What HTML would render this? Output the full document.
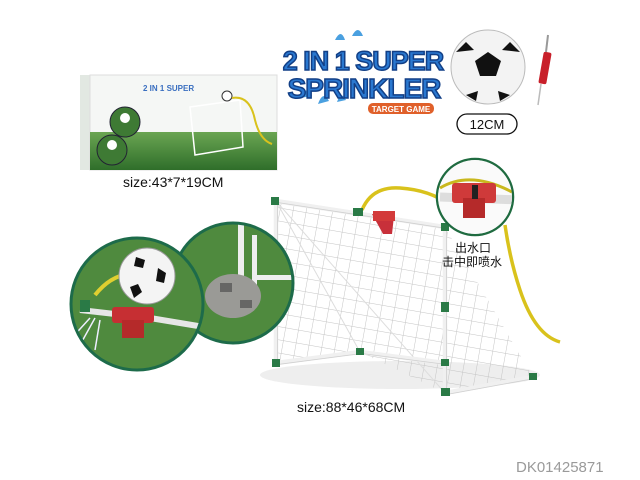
<!DOCTYPE html>
<html><head><meta charset="utf-8"><style>
body{margin:0;width:640px;height:480px;background:#fff;overflow:hidden;font-family:"Liberation Sans","Noto Sans CJK SC",sans-serif}
svg{position:absolute;left:0;top:0}
</style></head><body>
<svg width="640" height="480" viewBox="0 0 640 480">
<defs>
<linearGradient id="g" x1="0" y1="0" x2="0" y2="1"><stop offset="0" stop-color="#6aa552"/><stop offset="1" stop-color="#2f6e2a"/></linearGradient>
<pattern id="net" width="13" height="13" patternUnits="userSpaceOnUse" patternTransform="rotate(10)"><path d="M0 0H13M0 0V13" stroke="#c4c4c4" stroke-width="1" fill="none"/></pattern>
<clipPath id="c1"><circle cx="137" cy="304" r="66"/></clipPath>
<clipPath id="c2"><circle cx="233" cy="283" r="60"/></clipPath>
<clipPath id="c3"><circle cx="475" cy="197" r="37"/></clipPath>
</defs>
<!-- box -->
<rect x="80" y="75" width="10" height="95" fill="#e2e8e2"/>
<rect x="90" y="75" width="187" height="95" fill="#f5f7f5" stroke="#ddd"/>
<rect x="90" y="132" width="187" height="38" fill="url(#g)"/>
<circle cx="125" cy="122" r="15" fill="#3e7a34" stroke="#223" stroke-width="1"/>
<circle cx="112" cy="150" r="15" fill="#3e7a34" stroke="#223" stroke-width="1"/>
<circle cx="125" cy="118" r="5" fill="#fff"/><circle cx="112" cy="145" r="5" fill="#fff"/>
<path d="M190 107 L240 100 L243 147 L195 155 Z" fill="none" stroke="#fff" stroke-width="1.5"/>
<circle cx="227" cy="96" r="5" fill="#fff" stroke="#333"/>
<path d="M232 98 Q250 95 255 120 Q260 140 272 144" stroke="#d9c21c" stroke-width="2" fill="none"/>
<text x="143" y="91" font-size="8" fill="#3a6fc0" font-weight="bold">2 IN 1 SUPER</text>
<text x="123" y="187" font-size="14" fill="#111">size:43*7*19CM</text>
<!-- title -->
<path d="M300 98 q6 -14 12 -2 z M318 104 q5 -14 11 -3 z M337 102 q4 -12 9 -2z M335 40 q6 -12 10 0z M352 36 q6 -12 11 0z" fill="#4aa0e0"/>
<text x="363" y="70" font-size="27" font-weight="900" fill="#2a78d0" stroke="#123f86" stroke-width="1.5" text-anchor="middle" letter-spacing="-1">2 IN 1 SUPER</text>
<text x="364" y="98" font-size="28" font-weight="900" fill="#2a78d0" stroke="#123f86" stroke-width="1.5" text-anchor="middle" letter-spacing="-1">SPRINKLER</text>
<rect x="368" y="103" width="66" height="11" rx="5" fill="#e0602a"/>
<text x="401" y="112" font-size="8" font-weight="bold" fill="#fff" text-anchor="middle">TARGET GAME</text>
<!-- ball -->
<circle cx="488" cy="67" r="37" fill="#f3f3f3" stroke="#bbb"/>
<polygon points="488,52 501,61 496,76 480,76 475,61" fill="#111"/>
<path d="M456 52 l10 -10 l8 8 z M520 52 l-10 -10 l-8 8z M466 95 l10 6 l2 -10z M510 95 l-10 6 l-2 -10z" fill="#111"/>
<!-- pump -->
<rect x="541" y="52" width="8" height="32" rx="2" fill="#c8202a" transform="rotate(10 545 68)"/>
<line x1="548" y1="35" x2="546" y2="52" stroke="#999" stroke-width="2"/>
<line x1="541" y1="84" x2="538" y2="105" stroke="#bbb" stroke-width="1.5"/>
<rect x="457" y="114" width="60" height="20" rx="10" fill="#fff" stroke="#111" stroke-width="1.3"/>
<text x="487" y="129" font-size="13" fill="#111" text-anchor="middle">12CM</text>
<!-- hose -->
<path d="M362 210 Q372 186 400 188 Q430 190 450 205 M505 225 Q510 260 520 290 Q535 335 560 342" stroke="#d9c21c" stroke-width="3.5" fill="none"/>
<!-- goal shadow -->
<ellipse cx="400" cy="375" rx="140" ry="14" fill="#eee"/>
<!-- nets -->
<path d="M276 201 L445 227 L445 393 L360 352 L276 363 Z" fill="url(#net)"/>
<path d="M445 227 L533 377 L445 393 Z" fill="url(#net)"/>
<path d="M276 201 L360 352 M276 201 L445 393" stroke="#ddd" stroke-width="1" fill="none"/>
<!-- frame -->
<path d="M276 201 L445 227 L445 393 M276 201 L276 363 L360 352 L445 363 M445 393 L533 377" stroke="#f0f0f0" stroke-width="4.5" fill="none"/>
<path d="M276 201 L445 227 L445 393 M276 201 L276 363 L360 352 L445 363 M445 393 L533 377" stroke="#cfcfcf" stroke-width="0.8" fill="none" transform="translate(1.5,1.5)"/>
<g fill="#2a7a46">
<rect x="271" y="197" width="8" height="8"/><rect x="353" y="208" width="10" height="8"/>
<rect x="441" y="223" width="8" height="8"/><rect x="441" y="302" width="8" height="10"/>
<rect x="272" y="359" width="8" height="8"/><rect x="356" y="348" width="8" height="7"/>
<rect x="441" y="359" width="8" height="7"/><rect x="441" y="388" width="9" height="8"/>
<rect x="529" y="373" width="8" height="7"/>
</g>
<path d="M372 214 L394 216 L392 234 L383 234 Z" fill="#c8303a"/>
<rect x="373" y="211" width="22" height="10" fill="#d33a3a"/>
<!-- zoom circle top right -->
<circle cx="475" cy="197" r="38" fill="#fff" stroke="#1f6b40" stroke-width="2.5"/>
<g clip-path="url(#c3)">
<rect x="430" y="160" width="90" height="80" fill="#fafafa"/>
<path d="M440 188 Q470 170 512 192" stroke="#c9b81e" stroke-width="3" fill="none"/>
<path d="M440 197 L520 200" stroke="#ddd" stroke-width="9"/>
<rect x="452" y="183" width="44" height="20" rx="3" fill="#cf3a3a"/>
<rect x="463" y="198" width="22" height="20" fill="#b52a2a"/>
<rect x="472" y="185" width="6" height="14" fill="#222"/>
</g>
<text x="455" y="252" font-size="12" fill="#111">出水口</text>
<text x="442" y="266" font-size="12" fill="#111">击中即喷水</text>
<!-- two circles -->
<circle cx="233" cy="283" r="60" fill="#4f8a3e"/>
<g clip-path="url(#c2)">
<rect x="238" y="215" width="6" height="75" fill="#eee"/>
<rect x="252" y="235" width="5" height="50" fill="#eee"/>
<rect x="255" y="275" width="40" height="5" fill="#eee"/>
<ellipse cx="233" cy="296" rx="28" ry="22" fill="#9a9a96"/>
<rect x="220" y="283" width="12" height="9" fill="#444" opacity=".6"/>
<rect x="240" y="300" width="12" height="8" fill="#444" opacity=".6"/>
</g>
<circle cx="233" cy="283" r="60" fill="none" stroke="#1d6b4a" stroke-width="3"/>
<circle cx="137" cy="304" r="66" fill="#4f8a3e"/>
<g clip-path="url(#c1)">
<path d="M80 310 L150 318 L210 328" stroke="#e6e6e6" stroke-width="6" fill="none"/>
<path d="M95 295 Q115 270 140 275" stroke="#e0cf30" stroke-width="4" fill="none"/>
<rect x="80" y="300" width="10" height="12" fill="#2a7a46"/>
<path d="M90 318 L70 340 M95 318 L80 345 M100 320 L95 350" stroke="#eef" stroke-width="1.5"/>
<circle cx="147" cy="276" r="28" fill="#f4f4f4" stroke="#999"/>
<polygon points="136,257 145,260 143,268 134,266" fill="#111"/>
<polygon points="158,268 166,273 164,283 156,281" fill="#111"/>
<polygon points="130,287 138,284 142,292 134,298" fill="#111"/>
<rect x="112" y="307" width="42" height="16" rx="3" fill="#c62f33"/>
<rect x="122" y="320" width="22" height="18" fill="#b52a2a"/>
</g>
<circle cx="137" cy="304" r="66" fill="none" stroke="#1d6b4a" stroke-width="3"/>
<text x="297" y="412" font-size="14" fill="#111">size:88*46*68CM</text>
<text x="516" y="472" font-size="15" fill="#9a9a9a">DK01425871</text>
</svg>
</body></html>
